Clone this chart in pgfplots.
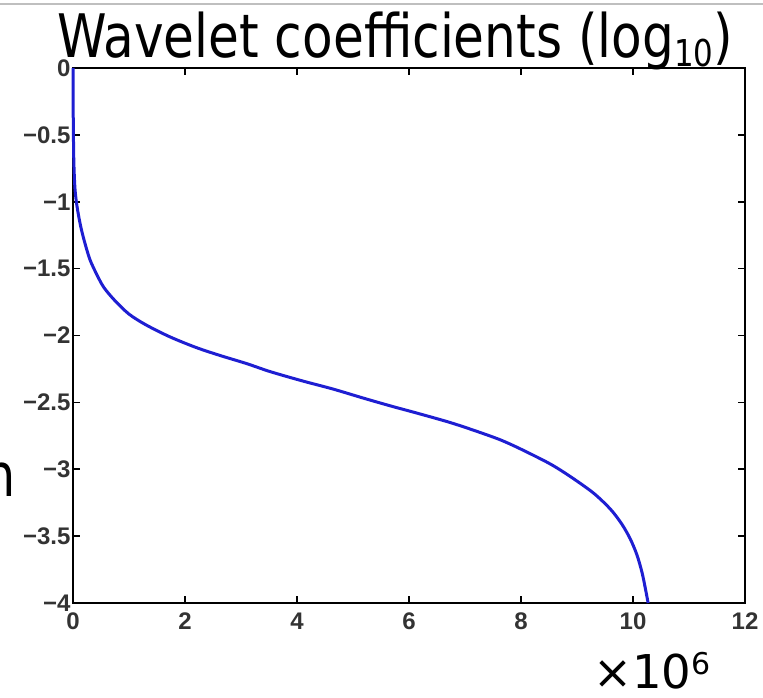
\documentclass[border=0pt]{standalone}
\usepackage{pgfplots}
\pgfplotsset{compat=1.18}
\usepackage{fontspec}
\setmainfont{DejaVu Sans}
\newfontfamily\tickfont{Liberation Sans}
\definecolor{curveblue}{RGB}{30,30,210}

\begin{document}
\begin{tikzpicture}[x=1pt,y=1pt]
  % page frame and thin rule at the top of the slide
  \path[use as bounding box] (0,0) rectangle (763,698);
  \draw[black!25, line width=1.5pt] (0,694) -- (763,694);

  \begin{axis}[
    at={(73pt,95pt)}, anchor=south west,
    scale only axis, width=672pt, height=535pt,
    xmin=0, xmax=12, ymin=-4, ymax=0,
    xtick={0,2,4,6,8,10,12},
    xticklabels={0,2,4,6,8,10,12},
    ytick={-4,-3.5,-3,-2.5,-2,-1.5,-1,-0.5,0},
    yticklabels={−4,−3.5,−3,−2.5,−2,−1.5,−1,−0.5,0},
    tick align=inside,
    major tick length=7pt,
    tick style={black, line width=1.6pt},
    axis line style={black, line width=2pt},
    tick label style={font=\tickfont\bfseries\fontsize{24}{24}\selectfont, text=black!80},
    xticklabel style={yshift=-6pt},
    yticklabel style={xshift=1pt},
    clip=false,
  ]
    \addplot[curveblue, line width=3pt, smooth, tension=0.5] coordinates {
      (0,0) (0.005,-0.4) (0.015,-0.7) (0.035,-0.9) (0.07,-1.03)
      (0.13,-1.17) (0.2,-1.29) (0.3,-1.43) (0.42,-1.54) (0.55,-1.64)
      (0.75,-1.74) (1.0,-1.84) (1.3,-1.92) (1.73,-2.01) (2.2,-2.09)
      (2.63,-2.15) (3.1,-2.21) (3.52,-2.27) (4.1,-2.34) (4.64,-2.40)
      (5.2,-2.47) (5.7,-2.53) (6.14,-2.58) (6.73,-2.65) (7.2,-2.715)
      (7.63,-2.78) (8.0,-2.85) (8.52,-2.96) (8.9,-3.06) (9.3,-3.18)
      (9.6,-3.30) (9.8,-3.41) (9.95,-3.52) (10.07,-3.64) (10.16,-3.77)
      (10.22,-3.89) (10.27,-4.0)
    };
  \end{axis}

  % title
  \node[anchor=base west, inner sep=0pt] at (57,640)
    {\scalebox{0.835}[1]{\fontsize{60}{60}\selectfont Wavelet coefficients (log\raisebox{-9pt}{\fontsize{37}{37}\selectfont 10})}};

  % exponent of the x axis
  \node[anchor=base west, inner sep=0pt] at (593,9)
    {\fontsize{46.6}{46.6}\selectfont ×10\raisebox{14pt}{\fontsize{30}{30}\selectfont 6}};

  % end of a line of slide text on the left
  \node[anchor=base east, inner sep=0pt] at (16,201)
    {\scalebox{0.82}[1]{\fontsize{60}{60}\selectfont n}};
\end{tikzpicture}
\end{document}
